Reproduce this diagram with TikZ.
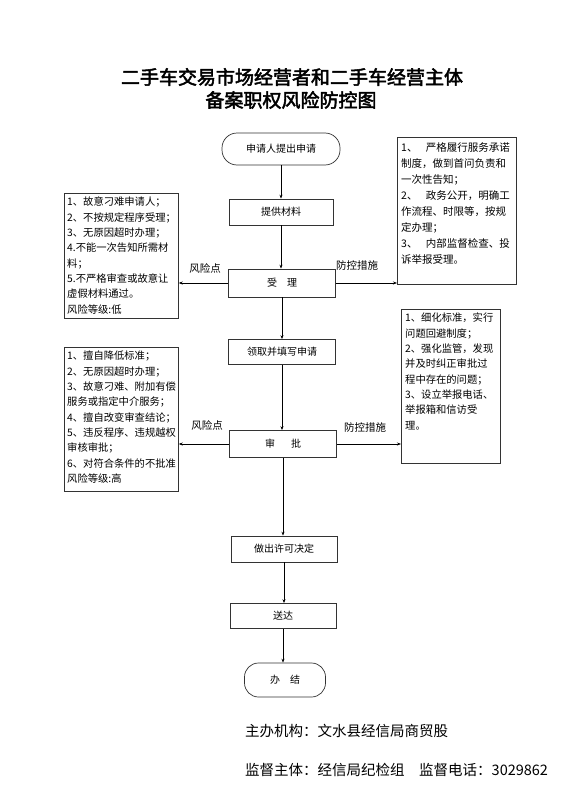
\documentclass[tikz,border=0pt]{standalone}
\usepackage{fontspec}
\newfontfamily\cjk{Noto Sans CJK SC}
\newfontfamily\cjkbold[FakeBold=2.5]{Noto Sans CJK SC}
\usetikzlibrary{arrows.meta}
\begin{document}
\begin{tikzpicture}[x=1pt,y=-1pt,
  flowbox/.style={draw=black!80, line width=0.7pt, inner sep=0pt, font=\cjk\fontsize{10}{12}\selectfont},
  ovalbox/.style={flowbox, rounded corners=15pt},
  sidebox/.style={draw=black!80, line width=0.7pt, inner sep=0pt, anchor=north west},
  sidetext/.style={anchor=north west, inner sep=0pt, align=left, font=\cjk\fontsize{10.3}{15.3}\selectfont},
  lbl/.style={inner sep=0pt, font=\cjk\fontsize{10.5}{12}\selectfont},
  arr/.style={draw=black, line width=0.7pt, -{Stealth[length=4pt,width=3pt]}},
  titletext/.style={inner sep=0pt, font=\cjkbold\fontsize{19}{22}\selectfont},
  foot/.style={inner sep=0pt, anchor=west, font=\cjk\fontsize{14.5}{16}\selectfont}
]
\useasboundingbox (0,0) rectangle (565,800);
\fill[white] (0,0) rectangle (565,800);

% titles
\node[titletext] (t1) at (292,77) {二手车交易市场经营者和二手车经营主体};
\node[titletext] (t2) at (291,100) {备案职权风险防控图};

% flow nodes
\node[ovalbox, minimum width=118pt, minimum height=32pt] (start) at (281,149) {申请人提出申请};
\node[flowbox, minimum width=104pt, minimum height=26pt] (p1) at (281,212) {提供材料};
\node[flowbox, minimum width=107pt, minimum height=28pt] (p2) at (282,283) {受\hspace{1em}理};
\node[flowbox, minimum width=107pt, minimum height=25pt] (p3) at (282,352) {领取并填写申请};
\node[flowbox, minimum width=107pt, minimum height=27pt] (p4) at (283,444) {审\hspace{1.6em}批};
\node[flowbox, minimum width=106pt, minimum height=26pt] (p5) at (284,549) {做出许可决定};
\node[flowbox, minimum width=106pt, minimum height=25pt] (p6) at (283,616) {送达};
\node[ovalbox, minimum width=81pt, minimum height=34pt, rounded corners=14pt] (fin) at (285,680) {办\hspace{1em}结};

% side boxes
\node[sidebox, minimum width=114pt, minimum height=125pt] (lb1) at (64,193) {};
\node[sidetext] (lt1) at (67,197) {1、故意刁难申请人；\\2、不按规定程序受理；\\3、无原因超时办理；\\4.不能一次告知所需材\\料；\\5.不严格审查或故意让\\虚假材料通过。\\风险等级:低};

\node[sidebox, minimum width=119pt, minimum height=147pt] (rb1) at (397,137) {};
\node[sidetext, font=\cjk\fontsize{10.5}{16}\selectfont] (rt1) at (401,142) {1、\hspace{0.8em}严格履行服务承诺\\制度，做到首问负责和\\一次性告知；\\2、\hspace{0.8em}政务公开，明确工\\作流程、时限等，按规\\定办理；\\3、\hspace{0.8em}内部监督检查、投\\诉举报受理。};

\node[sidebox, minimum width=114pt, minimum height=144pt] (lb2) at (64,347) {};
\node[sidetext] (lt2) at (67,351) {1、擅自降低标准；\\2、无原因超时办理；\\3、故意刁难、附加有偿\\服务或指定中介服务；\\4、擅自改变审查结论；\\5、违反程序、违规越权\\审核审批；\\6、对符合条件的不批准\\风险等级:高};

\node[sidebox, minimum width=99pt, minimum height=154pt] (rb2) at (401,309) {};
\node[sidetext] (rt2) at (405,313) {1、细化标准，实行\\问题回避制度；\\2、强化监管，发现\\并及时纠正审批过\\程中存在的问题；\\3、设立举报电话、\\举报箱和信访受\\理。};

% vertical connectors
\draw[arr] (start.south) -- (start.south |- p1.north);
\draw[arr] (p1.south) -- (p1.south |- p2.north);
\draw[arr] (p2.south) -- (p2.south |- p3.north);
\draw[arr] (p3.south) -- (p3.south |- p4.north);
\draw[arr] (p4.south) -- (p4.south |- p5.north);
\draw[arr] (p5.south) -- (p5.south |- p6.north);
\draw[arr] (p6.south) -- (p6.south |- fin.north);

% horizontal connectors
\draw[arr] (p2.west) -- (p2.west -| lb1.east);
\draw[arr] (p2.east) -- (p2.east -| rb1.west);
\draw[arr] (p4.west) -- (p4.west -| lb2.east);
\draw[arr] (p4.east) -- (p4.east -| rb2.west);

\node[lbl] (r1) at (205,268) {风险点};
\node[lbl] (m1) at (357,266) {防控措施};
\node[lbl] (r2) at (207,425) {风险点};
\node[lbl] (m2) at (365,428) {防控措施};

% footer
\node[foot] (f1) at (245,731) {主办机构：文水县经信局商贸股};
\node[foot] (f2) at (245,770) {监督主体：经信局纪检组\hspace{1em}监督电话：3029862};
\end{tikzpicture}
\end{document}
